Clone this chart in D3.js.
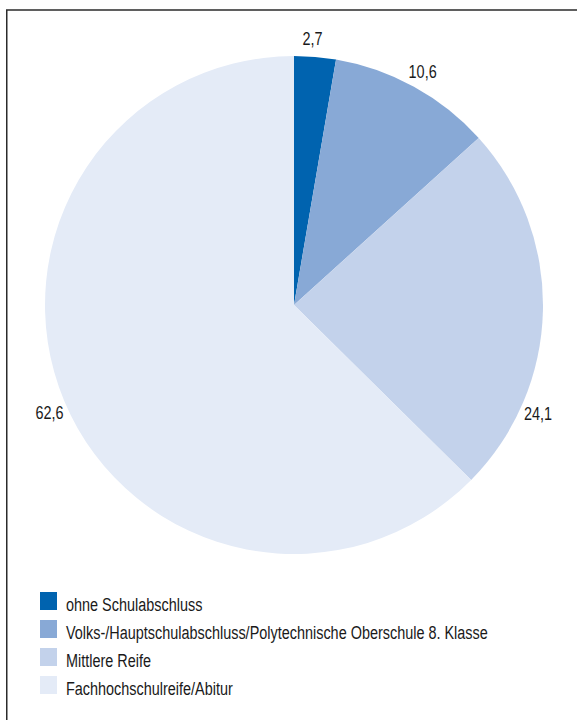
<!DOCTYPE html>
<html>
<head>
<meta charset="utf-8">
<script src="https://cdn.jsdelivr.net/npm/d3@7"></script>
<style>
  html, body { margin: 0; padding: 0; background: #fff; }
  svg { display: block; }
  text { font-family: "Liberation Sans", Arial, sans-serif; fill: #1a1a1a; }
</style>
</head>
<body>
<div id="chart"></div>
<script>
// Schulabschluss, Anteile in Prozent
const categories = [
  "ohne Schulabschluss",
  "Volks-/Hauptschulabschluss/Polytechnische Oberschule 8. Klasse",
  "Mittlere Reife",
  "Fachhochschulreife/Abitur"
];
const values = [2.7, 10.6, 24.1, 62.6];
const valueLabels = ["2,7", "10,6", "24,1", "62,6"];
const colors = ["#0063af", "#88a9d6", "#c3d2eb", "#e4ebf7"];

const W = 577, H = 720;
const cx = 294, cy = 305, R = 249;
const fontSize = 19;
const condense = 0.76; // narrow type face emulated by horizontal scaling

const svg = d3.select("#chart").append("svg")
  .attr("width", W).attr("height", H);

// frame
svg.append("rect")
  .attr("x", 6.75).attr("y", 10)
  .attr("width", W + 20).attr("height", H + 20)
  .attr("fill", "none").attr("stroke", "#2b2b2b").attr("stroke-width", 1.5);

const data = categories.map((c, i) => ({ cat: c, value: values[i], label: valueLabels[i], color: colors[i] }));

const pie = d3.pie().sort(null).value(d => d.value);
const arcs = pie(data);
const arc = d3.arc().innerRadius(0).outerRadius(R);

const g = svg.append("g").attr("transform", `translate(${cx},${cy})`);

g.selectAll("path").data(arcs).enter().append("path")
  .attr("d", arc)
  .attr("fill", d => d.data.color);

// value labels outside the slices; small angular nudges keep them clear of each other
const labelR = 267;
const deg = Math.PI / 180;
const nudges = [-0.9 * deg, 0, 22.7 * deg, -1 * deg];
g.selectAll("text.val").data(arcs).enter().append("text")
  .attr("class", "val")
  .attr("text-anchor", "middle")
  .attr("dy", "0.36em")
  .attr("font-size", fontSize)
  .attr("transform", (d, i) => {
    const a = (d.startAngle + d.endAngle) / 2 + nudges[i];
    return `translate(${labelR * Math.sin(a)},${-labelR * Math.cos(a)}) scale(${condense},1)`;
  })
  .text(d => d.data.label);

// legend
const legend = svg.append("g").attr("transform", "translate(40,592)");
const rows = legend.selectAll("g").data(data).enter().append("g")
  .attr("transform", (d, i) => `translate(0,${i * 28})`);
rows.append("rect")
  .attr("width", 17).attr("height", 18)
  .attr("fill", d => d.color);
rows.append("text")
  .attr("transform", `translate(26,18.5) scale(${condense},1)`)
  .attr("font-size", fontSize)
  .text(d => d.cat);
</script>
</body>
</html>
